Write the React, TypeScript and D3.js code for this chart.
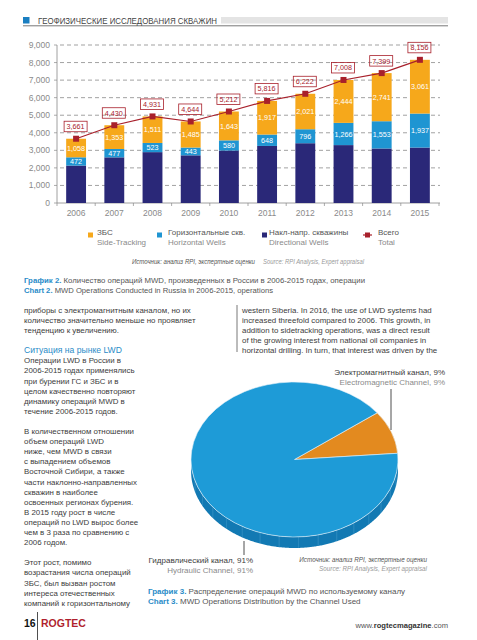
import React from 'react';
import * as d3 from 'd3';

const years = ['2006','2007','2008','2009','2010','2011','2012','2013','2014','2015'];
const directional = [2131,2600,2897,2716,2989,3251,3405,3298,3105,3158];
const horizontal = [472,477,523,443,580,648,796,1266,1553,1937];
const sidetracking = [1058,1353,1511,1485,1643,1917,2021,2444,2741,3061];
const totals = [3661,4430,4931,4644,5212,5816,6222,7008,7399,8156];
const yTicks = [0,1000,2000,3000,4000,5000,6000,7000,8000,9000];

const legendRu = ['ЗБС','Горизонтальные скв.','Накл-напр. скважины','Всего'];
const legendEn = ['Side-Tracking','Horizontal Wells','Directional Wells','Total'];

const pieNamesRu = ['Электромагнитный канал, 9%','Гидравлический канал, 91%'];
const pieNamesEn = ['Electromagnetic Channel, 9%','Hydraulic Channel, 91%'];
const pieValues = [9, 91];

const leftText = [
  'приборы с электромагнитным каналом, но их',
  'количество значительно меньше но проявляет',
  'тенденцию к увеличению.',
  '',
  '#Ситуация на рынке LWD',
  'Операции LWD в России в',
  '2006-2015 годах применялись',
  'при бурении ГС и ЗБС и в',
  'целом качественно повторяют',
  'динамику операций MWD в',
  'течение 2006-2015 годов.',
  '',
  'В количественном отношении',
  'объем операций LWD',
  'ниже, чем MWD в связи',
  'с выпадением объемов',
  'Восточной Сибири, а также',
  'части наклонно-направленных',
  'скважин в наиболее',
  'освоенных регионах бурения.',
  'В 2015 году рост в числе',
  'операций по LWD вырос более',
  'чем в 3 раза по сравнению с',
  '2006 годом.',
  '',
  'Этот рост, помимо',
  'возрастания числа операций',
  'ЗБС, был вызван ростом',
  'интереса отечественных',
  'компаний к горизонтальному',
];
const rightText = [
  'western Siberia. In 2016, the use of LWD systems had',
  'increased threefold compared to 2006. This growth, in',
  'addition to sidetracking operations, was a direct result',
  'of the growing interest from national oil companies in',
  'horizontal drilling. In turn, that interest was driven by the',
];

const FONT = '"Liberation Sans", Arial, sans-serif';
const C_SIDE = '#f6a81b';
const C_HOR = '#1f95d2';
const C_DIR = '#2a2878';
const C_RED = '#a8202b';
const C_BLUE_T = '#2a8cc8';
const C_TEXT = '#3c3c3c';
const C_GRAY = '#8a8a8a';

export default function App() {
  const x = d3.scaleBand<string>().domain(years).range([57, 439]).paddingInner(0.48).paddingOuter(0.24);
  const y = d3.scaleLinear().domain([0, 9000]).range([203, 45]);
  const bw = x.bandwidth();
  const fmt = d3.format(',');

  const stackData = years.map((yr, i) => ({ year: yr, dir: directional[i], hor: horizontal[i], side: sidetracking[i] }));
  const series = d3.stack<any>().keys(['dir', 'hor', 'side'])(stackData);
  const colors: Record<string, string> = { dir: C_DIR, hor: C_HOR, side: C_SIDE };

  const line = d3.line<number>().x((_, i) => (x(years[i]) as number) + bw / 2).y(d => y(d));

  // pie
  const cx = 294.5, cy = 459.5, rx = 103.5, ry = 77.5, depth = 11;
  const startA = (53 * Math.PI) / 180;
  const pie = d3.pie<number>().sort(null).startAngle(startA).endAngle(startA + 2 * Math.PI);
  const arcs = pie(pieValues);
  const arcGen = d3.arc<any>().innerRadius(0).outerRadius(rx);
  const pt = (a: number, dy = 0) => [cx + rx * Math.sin(a), cy - ry * Math.cos(a) + dy];
  const sidePath = (a0: number, a1: number) => {
    const s = Math.max(a0, Math.PI / 2), e = Math.min(a1, (3 * Math.PI) / 2);
    if (s >= e) return null;
    const angs = d3.range(s, e, 0.01).concat([e]);
    const top = angs.map(a => pt(a));
    const bot = angs.slice().reverse().map(a => pt(a, depth));
    return 'M' + top.concat(bot).map(p => p.join(',')).join('L') + 'Z';
  };
  const pieColors = ['#e38a1f', '#1e9bd7'];
  const sideColors = ['#b86c12', '#1279b3'];
  const sideLines = d3.range(Math.PI / 2 + 0.2, (3 * Math.PI) / 2, 0.19);

  return (
    <svg width={477} height={640} style={{ position: 'absolute', left: 0, top: 0, background: '#fff' }} fontFamily={FONT}>
      {/* header */}
      <rect x={23} y={17} width={6.5} height={6.5} fill="#1a7fc1" />
      <text x={38} y={23.5} fontSize={8.6} fill="#444" textLength={179} lengthAdjust="spacingAndGlyphs">ГЕОФИЗИЧЕСКИЕ ИССЛЕДОВАНИЯ СКВАЖИН</text>
      <rect x={221} y={17} width={227} height={6.5} fill="#e4e4e4" />
      <line x1={23} x2={448} y1={25.8} y2={25.8} stroke="#555" strokeWidth={0.8} />

      {/* grid */}
      {yTicks.map(t => (
        <g key={t}>
          {t > 0 && <line x1={60} x2={440} y1={y(t)} y2={y(t)} stroke="#7a7a7a" strokeWidth={0.7} strokeDasharray="4,3" />}
          <line x1={54} x2={57} y1={y(t)} y2={y(t)} stroke="#888" strokeWidth={0.7} />
          <text x={50} y={y(t) + 3} fontSize={8.5} fill={C_GRAY} textAnchor="end">{fmt(t)}</text>
        </g>
      ))}
      <line x1={57} x2={57} y1={y(9000)} y2={y(0)} stroke="#888" strokeWidth={0.8} />
      <line x1={57} x2={440} y1={y(0)} y2={y(0)} stroke="#888" strokeWidth={0.8} />
      {years.map((yr, i) => (
        <line key={'xt' + yr} x1={57 + i * x.step() + 0.001} x2={57 + i * x.step()} y1={y(0)} y2={y(0) + 3} stroke="#888" strokeWidth={0.7} />
      ))}
      <line x1={439} x2={439} y1={y(0)} y2={y(0) + 3} stroke="#888" strokeWidth={0.7} />
      {years.map(yr => (
        <text key={'yl' + yr} x={(x(yr) as number) + bw / 2} y={216} fontSize={8.5} fill={C_GRAY} textAnchor="middle">{yr}</text>
      ))}

      {/* bars */}
      {series.map(s => (
        <g key={s.key}>
          {s.map((d, i) => (
            <g key={i}>
              <rect x={x(years[i])} y={y(d[1])} width={bw} height={y(d[0]) - y(d[1])} fill={colors[s.key]} />
              {s.key !== 'dir' && (
                <text x={(x(years[i]) as number) + bw / 2} y={(y(d[0]) + y(d[1])) / 2 + 2.6} fontSize={7.2} fill="#fff" textAnchor="middle">{fmt(d[1] - d[0])}</text>
              )}
            </g>
          ))}
        </g>
      ))}

      {/* total line */}
      <path d={line(totals) || ''} fill="none" stroke={C_RED} strokeWidth={1.2} />
      {totals.map((t, i) => {
        const cxp = (x(years[i]) as number) + bw / 2;
        const cyp = y(t);
        return (
          <g key={'tot' + i}>
            <rect x={cxp - 3} y={cyp - 3} width={6} height={6} fill={C_RED} />
            <rect x={cxp - 12} y={cyp - 17.5} width={23} height={10.5} fill="none" stroke={C_RED} strokeWidth={0.8} />
            <text x={cxp - 0.5} y={cyp - 9.5} fontSize={7.2} fill={C_RED} textAnchor="middle">{fmt(t)}</text>
          </g>
        );
      })}

      {/* legend */}
      {[C_SIDE, C_HOR, C_DIR].map((c, i) => {
        const lx = [88, 157, 262][i];
        const tx = [97, 168, 269][i];
        return (
          <g key={'lg' + i}>
            <rect x={lx} y={232.5} width={5} height={5} fill={c} />
            <text x={tx} y={234.8} fontSize={8} fill="#555">{legendRu[i]}</text>
            <text x={tx} y={244.5} fontSize={8} fill={C_GRAY}>{legendEn[i]}</text>
          </g>
        );
      })}
      <line x1={363} x2={372} y1={235} y2={235} stroke={C_RED} strokeWidth={1.2} />
      <rect x={365} y={232.5} width={5} height={5} fill={C_RED} />
      <text x={378} y={234.8} fontSize={8} fill="#555">{legendRu[3]}</text>
      <text x={378} y={244.5} fontSize={8} fill={C_GRAY}>{legendEn[3]}</text>

      <text x={132} y={263.5} fontSize={6.3} fontStyle="italic" fill="#555" textLength={123} lengthAdjust="spacingAndGlyphs">Источник: анализ RPI, экспертные оценки</text>
      <text x={263} y={263.5} fontSize={6.3} fontStyle="italic" fill="#999" textLength={101} lengthAdjust="spacingAndGlyphs">Source: RPI Analysis, Expert appraisal</text>

      {/* caption 2 */}
      <text x={24} y={282.8} fontSize={8} fill="#555" textLength={341} lengthAdjust="spacingAndGlyphs">
        <tspan fill={C_BLUE_T} fontWeight="bold">График 2.</tspan> Количество операций MWD, произведенных в России в 2006-2015 годах, операции
      </text>
      <text x={24} y={292.8} fontSize={8} fill="#555" textLength={249} lengthAdjust="spacingAndGlyphs">
        <tspan fill={C_BLUE_T} fontWeight="bold">Chart 2.</tspan> MWD Operations Conducted in Russia in 2006-2015, operations
      </text>

      {/* body text */}
      {leftText.map((t, i) => t === '' ? null : (
        <text key={'lt' + i} x={24} y={310 + i * 10.1 + 2.8} fontSize={t.startsWith('#') ? 8.6 : 7.9} fill={t.startsWith('#') ? C_BLUE_T : C_TEXT}>
          {t.replace('#', '')}
        </text>
      ))}
      <line x1={237} x2={237} y1={305} y2={352} stroke="#555" strokeWidth={0.8} />
      {rightText.map((t, i) => (
        <text key={'rt' + i} x={242} y={310 + i * 10.1 + 2.8} fontSize={7.9} fill={C_TEXT}>{t}</text>
      ))}

      {/* pie */}
      {arcs.map((a, i) => {
        const p = sidePath(a.startAngle, a.endAngle);
        return p ? <path key={'side' + i} d={p} fill={sideColors[i]} /> : null;
      })}
      {sideLines.map((a, i) => {
        const p0 = pt(a), p1 = pt(a, depth);
        return <line key={'sl' + i} x1={p0[0]} y1={p0[1]} x2={p1[0]} y2={p1[1]} stroke="#6fb8e0" strokeWidth={0.5} opacity={0.6} />;
      })}
      <g transform={`translate(${cx},${cy}) scale(1,${ry / rx})`}>
        {arcs.map((a, i) => (
          <path key={'top' + i} d={arcGen(a) || ''} fill={pieColors[i]} stroke="#e8f2f8" strokeWidth={0.6} vectorEffect="non-scaling-stroke" />
        ))}
      </g>

      {/* pie labels */}
      <line x1={391} x2={391} y1={389} y2={430} stroke="#222" strokeWidth={0.8} />
      <text x={445} y={374.8} fontSize={8} fill={C_TEXT} textAnchor="end">{pieNamesRu[0]}</text>
      <text x={445} y={384.8} fontSize={8} fill={C_GRAY} textAnchor="end">{pieNamesEn[0]}</text>
      <line x1={244} x2={244} y1={541} y2={555} stroke="#222" strokeWidth={0.8} />
      <text x={253} y={562.8} fontSize={8} fill={C_TEXT} textAnchor="end">{pieNamesRu[1]}</text>
      <text x={253} y={572.8} fontSize={8} fill={C_GRAY} textAnchor="end">{pieNamesEn[1]}</text>

      <text x={427} y={561.5} fontSize={6.3} fontStyle="italic" fill="#555" textAnchor="end">Источник: анализ RPI, экспертные оценки</text>
      <text x={427} y={570.5} fontSize={6.3} fontStyle="italic" fill="#999" textAnchor="end">Source: RPI Analysis, Expert appraisal</text>

      <text x={148} y={593.8} fontSize={8} fill="#555">
        <tspan fill={C_BLUE_T} fontWeight="bold">График 3.</tspan> Распределение операций MWD по используемому каналу
      </text>
      <text x={148} y={603.8} fontSize={8} fill="#555">
        <tspan fill={C_BLUE_T} fontWeight="bold">Chart 3.</tspan> MWD Operations Distribution by the Channel Used
      </text>

      {/* footer */}
      <text x={24} y={627} fontSize={10.5} fontWeight="bold" fill="#111">16</text>
      <line x1={37.5} x2={37.5} y1={612} y2={640} stroke="#222" strokeWidth={0.8} />
      <text x={41} y={627} fontSize={10.5} fontWeight="bold" fill="#b01f2e">ROGTEC</text>
      <text x={448} y={628} fontSize={7.6} fill="#555" textAnchor="end">
        www.<tspan fontWeight="bold" fill="#333">rogtecmagazine</tspan>.com
      </text>
    </svg>
  );
}
